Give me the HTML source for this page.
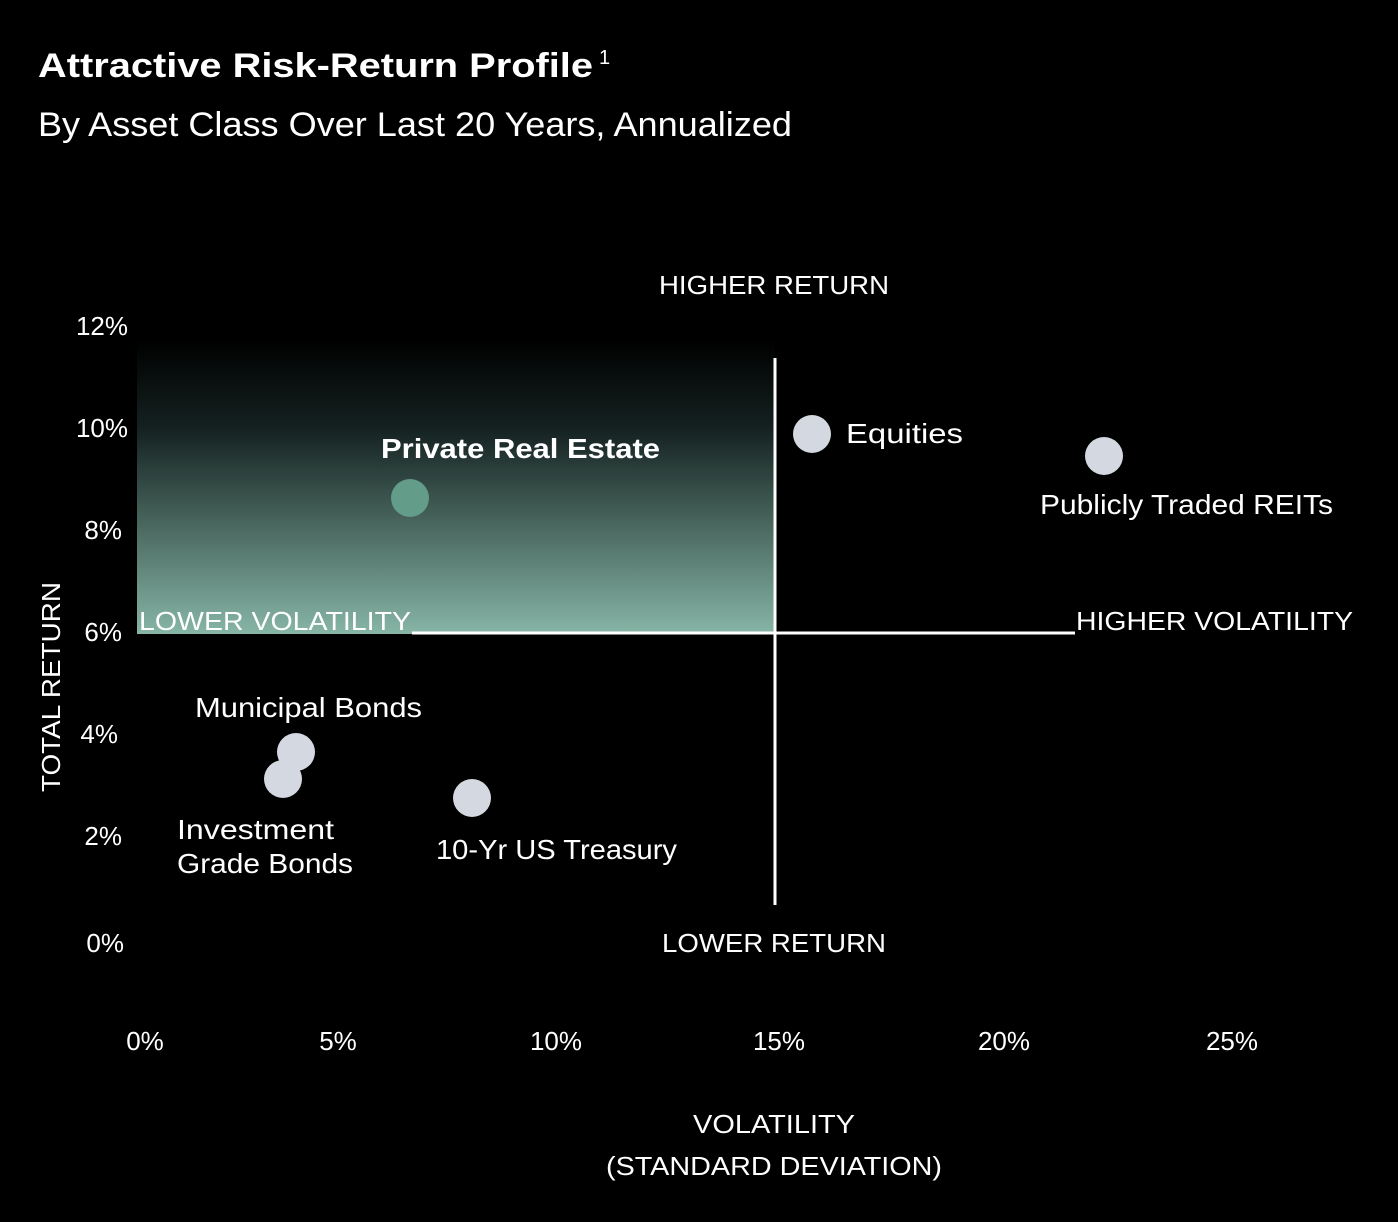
<!DOCTYPE html>
<html><head><meta charset="utf-8"><style>
html,body{margin:0;padding:0;background:#000;}
svg{display:block}
text{font-family:"Liberation Sans",sans-serif;fill:#fff}
</style></head><body>
<svg width="1398" height="1222" viewBox="0 0 1398 1222" xmlns="http://www.w3.org/2000/svg">
<defs>
<linearGradient id="g" x1="0" y1="0" x2="0" y2="1">
<stop offset="0" stop-color="#000"/>
<stop offset="0.3" stop-color="#142120"/>
<stop offset="1" stop-color="#86b5a6"/>
</linearGradient>
</defs>
<rect width="1398" height="1222" fill="#000"/>
<text x="38" y="77" font-size="34" font-weight="bold" textLength="555" lengthAdjust="spacingAndGlyphs">Attractive Risk-Return Profile</text>
<text x="599" y="64" font-size="20">1</text>
<text x="38" y="136" font-size="34" textLength="754" lengthAdjust="spacingAndGlyphs">By Asset Class Over Last 20 Years, Annualized</text>

<rect x="137" y="340" width="638" height="294" fill="url(#g)"/>
<line x1="775" y1="358" x2="775" y2="905" stroke="#fff" stroke-width="3"/>
<line x1="412" y1="633" x2="1075" y2="633" stroke="#fff" stroke-width="3"/>

<g font-size="26" textLength="0">
<text x="659" y="294" textLength="230" lengthAdjust="spacingAndGlyphs">HIGHER RETURN</text>
<text x="662" y="952" textLength="224" lengthAdjust="spacingAndGlyphs">LOWER RETURN</text>
<text x="139" y="630" textLength="272" lengthAdjust="spacingAndGlyphs">LOWER VOLATILITY</text>
<text x="1076" y="630" textLength="277" lengthAdjust="spacingAndGlyphs">HIGHER VOLATILITY</text>
</g>

<g font-size="26" text-anchor="end">
<text x="128" y="335">12%</text>
<text x="128" y="437">10%</text>
<text x="122" y="539">8%</text>
<text x="122" y="641">6%</text>
<text x="118" y="743">4%</text>
<text x="122" y="845">2%</text>
<text x="124" y="952">0%</text>
</g>
<g font-size="26" text-anchor="middle">
<text x="145" y="1050">0%</text>
<text x="338" y="1050">5%</text>
<text x="556" y="1050">10%</text>
<text x="779" y="1050">15%</text>
<text x="1004" y="1050">20%</text>
<text x="1232" y="1050">25%</text>
<text x="774" y="1133" textLength="162" lengthAdjust="spacingAndGlyphs">VOLATILITY</text>
<text x="774" y="1175" textLength="336" lengthAdjust="spacingAndGlyphs">(STANDARD DEVIATION)</text>
</g>
<text transform="translate(60,792) rotate(-90)" font-size="26" textLength="210" lengthAdjust="spacingAndGlyphs">TOTAL RETURN</text>

<circle cx="410" cy="498" r="19" fill="#639c89"/>
<circle cx="812" cy="434" r="19" fill="#d4d8e0"/>
<circle cx="1104" cy="456" r="19" fill="#d4d8e0"/>
<circle cx="296" cy="752" r="19" fill="#d4d8e0"/>
<circle cx="283" cy="779" r="19" fill="#d4d8e0"/>
<circle cx="472" cy="798" r="19" fill="#d4d8e0"/>

<g font-size="28" font-weight="bold">
<text x="381" y="458" textLength="279" lengthAdjust="spacingAndGlyphs">Private Real Estate</text>
</g>
<g font-size="28">
<text x="846" y="443" textLength="117" lengthAdjust="spacingAndGlyphs">Equities</text>
<text x="1040" y="514" textLength="293" lengthAdjust="spacingAndGlyphs">Publicly Traded REITs</text>
<text x="195" y="717" textLength="227" lengthAdjust="spacingAndGlyphs">Municipal Bonds</text>
<text x="177" y="839" textLength="157" lengthAdjust="spacingAndGlyphs">Investment</text>
<text x="177" y="873" textLength="176" lengthAdjust="spacingAndGlyphs">Grade Bonds</text>
<text x="436" y="859" textLength="241" lengthAdjust="spacingAndGlyphs">10-Yr US Treasury</text>
</g>
</svg>
</body></html>
